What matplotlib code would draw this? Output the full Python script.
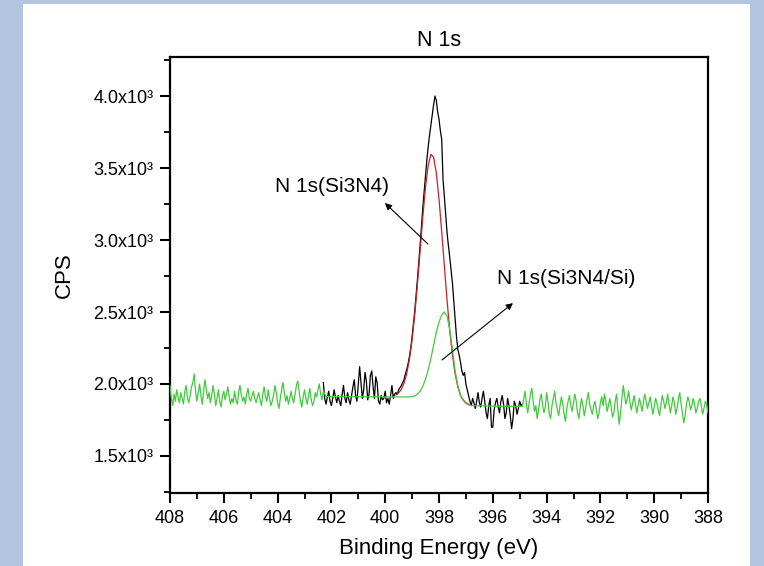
import numpy as np
import matplotlib
matplotlib.use("Agg")
import matplotlib.pyplot as plt
from matplotlib.patches import Rectangle
from matplotlib.ticker import MultipleLocator, FuncFormatter

plt.rcParams['font.family'] = ['Liberation Sans', 'DejaVu Sans']

# ---------------- data (binding energy, high -> low) ----------------
# noisy spectrum drawn in green, 408.00 -> 402.30 eV, 0.05 eV steps
gl_start, gl_step = 408.0, -0.05
green_left = [1990, 1900, 1850, 1930, 1880, 1960, 1910, 1870, 1940, 1900,
              1860, 1950, 1990, 1900, 1870, 1920, 1980, 2010, 2070, 1950,
              1880, 1940, 2000, 1920, 1860, 1950, 2030, 1960, 1900, 1940,
              1870, 1920, 1990, 1930, 1850, 1900, 1960, 1880, 1840, 1920,
              1950, 1890, 1930, 1980, 1910, 1860, 1900, 1870, 1950, 1890,
              1860, 1940, 1990, 1920, 1880, 1910, 1860, 1930, 1970, 1900,
              1880, 1920, 1950, 1900, 1870, 1910, 1940, 1890, 1850, 1930,
              1980, 1910, 1880, 1960, 1900, 1850, 1880, 1920, 1990, 1940,
              1870, 1830, 1900, 1960, 2010, 1940, 1880, 1920, 1860, 1900,
              1950, 1900, 1870, 1930, 1990, 2020, 1950, 1880, 1840, 1910,
              1960, 1900, 1860, 1920, 1970, 1890, 1850, 1880, 1940, 1910,
              1960, 2000, 1930, 1890, 1950]

# fitted Si3N4/Si component + background (green), 402.2 -> 394.9 eV, 0.1 eV steps
gf_start, gf_step = 402.2, -0.1
green_fit = [1912, 1912, 1912, 1912, 1912, 1912, 1912, 1912, 1912, 1912,
             1912, 1911, 1911, 1911, 1911, 1911, 1911, 1911, 1911, 1911,
             1911, 1910, 1910, 1910, 1910, 1910, 1910, 1910, 1910, 1910,
             1910, 1910,
             1912, 1918, 1930, 1950, 1985, 2035, 2100, 2180, 2270, 2360,
             2430, 2480, 2500, 2470, 2380, 2240, 2090, 1990, 1920, 1885,
             1865, 1855, 1850,
             1849, 1849, 1848, 1848, 1848, 1847, 1847, 1847, 1846, 1846,
             1846, 1846, 1845, 1845, 1845, 1845, 1845, 1845, 1845]

# noisy spectrum drawn in green, 394.85 -> 388.00 eV, 0.05 eV steps
gr_start, gr_step = 394.85, -0.05
green_right = [1900, 1950, 1860, 1800, 1870, 1930, 1970, 1880, 1810, 1850,
               1760, 1820, 1890, 1930, 1860, 1800, 1840, 1940, 1880, 1790,
               1760, 1850, 1900, 1950, 1870, 1820, 1780, 1850, 1910, 1860,
               1790, 1740, 1830, 1880, 1920, 1850, 1810, 1870, 1930, 1880,
               1800, 1760, 1840, 1900, 1850, 1780, 1830, 1890, 1940, 1860,
               1820, 1790, 1850, 1880, 1820, 1760, 1800, 1870, 1910, 1850,
               1930, 1880, 1810, 1850, 1900, 1840, 1770, 1800, 1880, 1930,
               1820, 1720, 1800, 1900, 1990, 1920, 1860, 1900, 1950, 1870,
               1820, 1870, 1920, 1860, 1800, 1850, 1900, 1860, 1810, 1880,
               1930, 1880, 1830, 1870, 1910, 1850, 1790, 1840, 1900, 1870,
               1820, 1780, 1860, 1920, 1880, 1830, 1870, 1930, 1860, 1800,
               1850, 1910, 1870, 1790, 1830, 1900, 1940, 1860, 1800, 1730,
               1780, 1860, 1910, 1880, 1820, 1850, 1900, 1860, 1800, 1830,
               1880, 1900, 1850, 1790, 1830, 1880, 1860, 1800]

# measured spectrum in the peak region (black), 402.30 -> 394.90 eV, 0.05 eV steps
bk_start, bk_step = 402.3, -0.05
black = [2010, 1900, 1860, 1910, 1950, 1880, 1850, 1900, 1960, 1910,
         1870, 1920, 1880, 1850, 1930, 1990, 1900, 1870, 1940, 1890,
         1860, 1920, 1980, 2030, 1920, 1880, 2000, 2120, 2010, 1900,
         1960, 2080, 2020, 1890, 1930, 2060, 2090, 1980, 1900, 2050,
         2010, 1880, 1860, 1920, 1890, 1900, 1950, 1870, 1900, 1860,
         1920, 1990, 1900, 1930,
         1940, 1930, 1960, 1975, 1990, 2010, 2030, 2070, 2100, 2140,
         2190, 2250, 2330, 2420, 2510, 2620, 2730, 2850, 2970, 3100,
         3230, 3340, 3450, 3560, 3650, 3730, 3800, 3870, 3940, 4000,
         3970, 3890, 3840, 3760, 3700, 3420, 3300, 3170, 3050, 2960,
         2880, 2790, 2700, 2570, 2450, 2330, 2240, 2200, 2150, 2090,
         2060, 2080, 2000, 1960, 1920, 1880,
         1850, 1900, 1870, 1830, 1880, 1940, 1870, 1840, 1900, 1950,
         1880, 1800, 1760, 1850, 1900, 1700, 1700, 1820, 1870, 1900,
         1840, 1800, 1880, 1920, 1860, 1760, 1800, 1900, 1850, 1780,
         1690, 1760, 1880, 1850, 1790, 1830, 1880, 1850, 1860]

# fitted Si3N4 component + background (red), 399.6 -> 396.8 eV, 0.1 eV steps
rd_start, rd_step = 399.6, -0.1
red_fit = [1924, 1938, 1963, 2005, 2072, 2170, 2308, 2485, 2697, 2930,
           3164, 3370, 3520, 3595, 3575, 3465, 3285, 3060, 2815, 2580,
           2370, 2200, 2070, 1980, 1920, 1890, 1870, 1860, 1852]

x_ticks = [408, 406, 404, 402, 400, 398, 396, 394, 392, 390, 388]
y_ticks = [1500, 2000, 2500, 3000, 3500, 4000]

title = "N 1s"
xlabel = "Binding Energy (eV)"
ylabel = "CPS"
label_a = "N 1s(Si3N4)"
label_b = "N 1s(Si3N4/Si)"


def grid(start, step, n):
    return np.round(start + step * np.arange(n), 3)


# ---------------- figure ----------------
fig = plt.figure(figsize=(7.64, 5.66), dpi=100)
fig.patch.set_facecolor('#b3c5e1')
fig.patches.append(Rectangle((23 / 764, 0), (750 - 23) / 764, 1 - 4 / 566,
                             transform=fig.transFigure, facecolor='white',
                             edgecolor='none', zorder=-5))

ax = fig.add_axes([170 / 764, 1 - 493 / 566, (708 - 170) / 764, (493 - 57) / 566])
ax.set_zorder(2)
ax.set_facecolor('white')

x_green = np.concatenate([grid(gl_start, gl_step, len(green_left)),
                          grid(gf_start, gf_step, len(green_fit)),
                          grid(gr_start, gr_step, len(green_right))])
y_green = np.array(green_left + green_fit + green_right, dtype=float)
x_black = grid(bk_start, bk_step, len(black))
x_red = grid(rd_start, rd_step, len(red_fit))

ax.plot(x_black, black, color='black', lw=0.9, zorder=3)
ax.plot(x_red, red_fit, color='#c8202a', lw=0.9, zorder=4)
ax.plot(x_green, y_green, color='#3fcc3a', lw=0.9, zorder=5)

ax.set_xlim(408, 388)
ax.set_ylim(1243, 4271)
ax.set_xticks(x_ticks)
ax.set_yticks(y_ticks)
ax.xaxis.set_minor_locator(MultipleLocator(1))
ax.yaxis.set_minor_locator(MultipleLocator(250))
ax.yaxis.set_major_formatter(FuncFormatter(lambda v, p: f"{v/1000:.1f}x10\u00b3"))

for s in ax.spines.values():
    s.set_linewidth(1.6)
ax.tick_params(which='major', direction='out', length=7, width=1.5,
               labelsize=13, pad=5, top=False, right=False)
ax.tick_params(which='minor', direction='out', length=4, width=1.3,
               top=False, right=False)

ax.set_title(title, fontsize=15.5, pad=8)
ax.set_xlabel(xlabel, fontsize=16, labelpad=8)
ax.set_ylabel(ylabel, fontsize=16, labelpad=13)

ax.text(401.98, 3375, label_a, fontsize=15, ha='center', va='center')
ax.text(393.28, 2736, label_b, fontsize=15, ha='center', va='center')

arrowprops = dict(arrowstyle='-|>', color='black', lw=0.8,
                  mutation_scale=10, shrinkA=0, shrinkB=0)
ax.annotate('', xy=(400.01, 3257), xytext=(398.41, 2972), arrowprops=arrowprops, zorder=6)
ax.annotate('', xy=(395.25, 2562), xytext=(397.89, 2167), arrowprops=arrowprops, zorder=6)

fig.savefig('out.png', dpi=100, facecolor=fig.get_facecolor())
